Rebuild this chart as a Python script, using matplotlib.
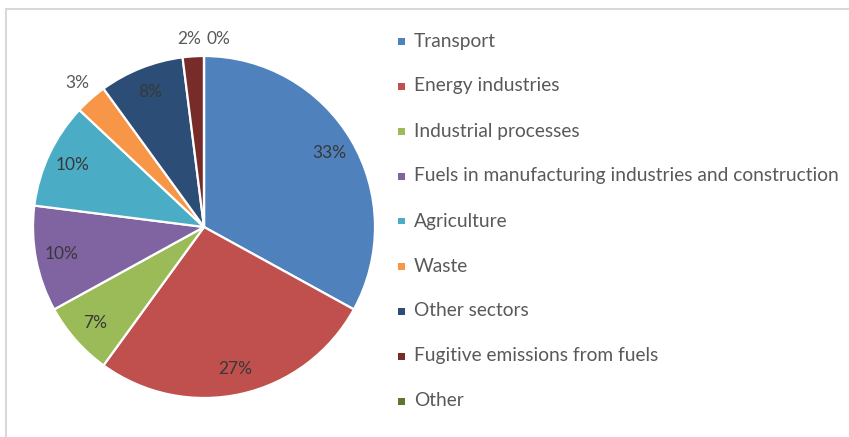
import numpy as np
import matplotlib.pyplot as plt
from matplotlib.patches import Rectangle

plt.rcParams['font.family'] = ['Lato', 'DejaVu Sans']

sectors = ['Transport', 'Energy industries', 'Industrial processes',
           'Fuels in manufacturing industries and construction',
           'Agriculture', 'Waste', 'Other sectors',
           'Fugitive emissions from fuels', 'Other']
shares = [33, 27, 7, 10, 10, 3, 8, 2, 0]
colors = ['#4F81BD', '#C0504D', '#9BBB59', '#8064A2', '#4BACC6',
          '#F79646', '#2C4D75', '#772C2A', '#5F7530']

W, H = 849, 437
fig = plt.figure(figsize=(W / 100, H / 100), dpi=100)

# light frame around the chart area
fig.add_artist(Rectangle((6 / W, -0.1), 1.2, 1.1 - 9 / H, transform=fig.transFigure,
                         fill=False, edgecolor='#D9D9D9', linewidth=1.5))

# pie centred at (204, 227) px, radius 171 px
cx, cy, r = 204, 227, 171
ax = fig.add_axes([(cx - r) / W, (H - cy - r) / H, 2 * r / W, 2 * r / H])

wedges, _ = ax.pie(shares, colors=colors, startangle=90, counterclock=False,
                   radius=1, wedgeprops=dict(edgecolor='white', linewidth=1.6))
ax.set_xlim(-1, 1)
ax.set_ylim(-1, 1)
ax.axis('off')

# percentage labels: inside for big slices, outside for small ones
for w, s in zip(wedges, shares):
    mid = np.deg2rad((w.theta1 + w.theta2) / 2)
    if s >= 5:
        x, y = 0.85 * np.cos(mid), 0.85 * np.sin(mid)
        ax.text(x, y, f'{s}%', ha='center', va='center', fontsize=12.5, color='#383838')
    else:
        x, y = 1.12 * np.cos(mid), 1.12 * np.sin(mid)
        ha = 'center'
        if abs(x) < 0.15:
            # keep the two labels at the top apart
            ha = 'left' if x >= -1e-9 else 'right'
            x = 0.012 if ha == 'left' else -0.018
            y = 1.10
        ax.text(x, y, f'{s}%', ha=ha, va='center', fontsize=12.5, color='#595959')

# legend on the right
for i, (name, c) in enumerate(zip(sectors, colors)):
    ycen = 41 + 45 * i
    fig.add_artist(Rectangle((398 / W, 1 - (ycen + 3.5) / H), 7 / W, 7 / H,
                             transform=fig.transFigure, facecolor=c, edgecolor='none'))
    fig.text(414 / W, 1 - ycen / H, name, ha='left', va='center',
             fontsize=13.8, color='#595959')

fig.savefig('out.png', dpi=100)
